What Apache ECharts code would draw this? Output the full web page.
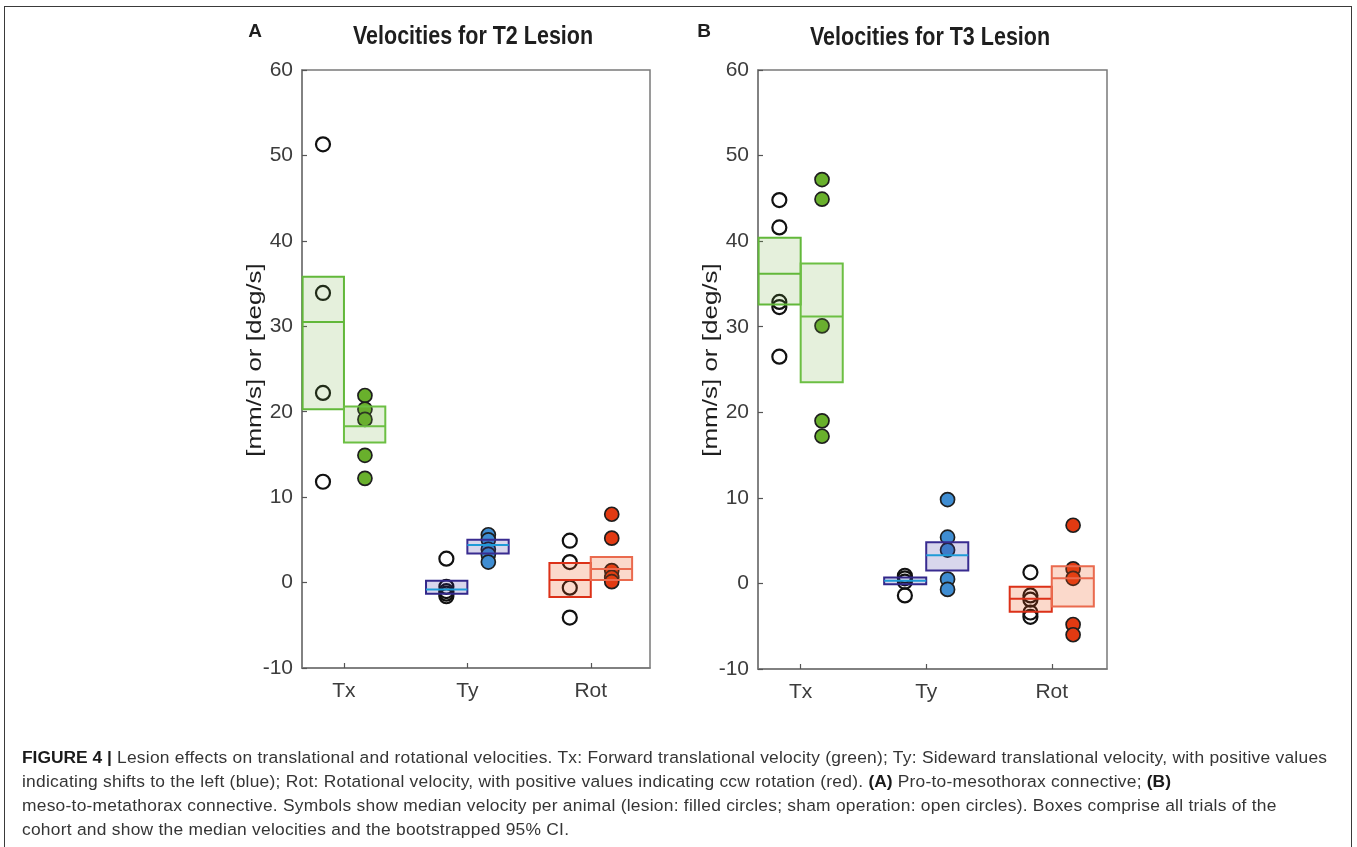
<!DOCTYPE html>
<html>
<head>
<meta charset="utf-8">
<script src="https://cdn.jsdelivr.net/npm/echarts@6/dist/echarts.min.js"></script>
<style>
  html, body { margin: 0; padding: 0; background: #fff; }
  #chart { position: absolute; left: 0; top: 0; width: 1357px; height: 847px; }
  #frame { position: absolute; left: 4px; top: 6px; width: 1346px; height: 900px;
           border: 1.5px solid #3a3a3a; pointer-events: none; }
  #caption { position: absolute; left: 22px; top: 745px; font-family: 'Liberation Sans', Arial, sans-serif;
             font-size: 17.4px; letter-spacing: 0.25px; line-height: 24px; color: #353535; white-space: nowrap; }
  #caption b { color: #1a1a1a; letter-spacing: 0; }
</style>
</head>
<body>
<div id="chart"></div>
<div id="frame"></div>
<div id="caption">
<b>FIGURE 4 |</b> Lesion effects on translational and rotational velocities. Tx: Forward translational velocity (green); Ty: Sideward translational velocity, with positive values<br>
indicating shifts to the left (blue); Rot: Rotational velocity, with positive values indicating ccw rotation (red). <b>(A)</b> Pro-to-mesothorax connective; <b>(B)</b><br>
meso-to-metathorax connective. Symbols show median velocity per animal (lesion: filled circles; sham operation: open circles). Boxes comprise all trials of the<br>
cohort and show the median velocities and the bootstrapped 95% CI.
</div>
<script>
// categories on the x axis
const categories = ['Tx', 'Ty', 'Rot'];
const yTicks = [-10, 0, 10, 20, 30, 40, 50, 60];

// T2 lesion: median per animal
const t2ShamTx = [51.3, 33.9, 22.2, 11.8];
const t2LesionTx = [21.9, 20.3, 19.1, 14.9, 12.2];
const t2ShamTy = [2.8, -0.5, -1.0, -1.3, -1.6];
const t2LesionTy = [5.6, 5.0, 3.9, 3.3, 2.4];
const t2ShamRot = [4.9, 2.4, -0.6, -4.1];
const t2LesionRot = [8.0, 5.2, 1.4, 0.6, 0.1];
// T2 boxes [low CI, median, high CI] per category
const t2ShamBox = [[20.3, 30.5, 35.8], [-1.3, -0.8, 0.2], [-1.7, 0.3, 2.3]];
const t2LesionBox = [[16.4, 18.3, 20.6], [3.4, 4.4, 5.0], [0.3, 1.6, 3.0]];

// T3 lesion
const t3ShamTx = [44.8, 41.6, 32.9, 32.3, 26.5];
const t3LesionTx = [47.2, 44.9, 30.1, 19.0, 17.2];
const t3ShamTy = [0.9, 0.6, 0.2, -1.4];
const t3LesionTy = [9.8, 5.4, 3.9, 0.5, -0.7];
const t3ShamRot = [1.3, -1.4, -1.9, -3.4, -3.9];
const t3LesionRot = [6.8, 1.7, 0.6, -4.8, -6.0];
const t3ShamBox = [[32.6, 36.2, 40.4], [-0.1, 0.3, 0.7], [-3.3, -1.8, -0.4]];
const t3LesionBox = [[23.5, 31.2, 37.4], [1.5, 3.3, 4.8], [-2.7, 0.6, 2.0]];

// colours per category (Tx, Ty, Rot)
const edgeSham = ['#62b83a', '#32278a', '#dc3118'];
const edgeLesion = ['#6cbf43', '#382b90', '#ea6a4e'];
const medianSham = ['#62b83a', '#1f9bd7', '#dc3118'];
const medianLesion = ['#6cbf43', '#1f9bd7', '#ea6a4e'];
const boxFill = ['rgba(110,170,60,0.18)', 'rgba(60,50,160,0.2)', 'rgba(235,80,20,0.22)'];
const dotFill = ['#69b02c', '#3f8dd2', '#e23a12'];

const BW = 0.335;
const OFF = 0.17;
const tickFont = "'Liberation Sans', Arial, sans-serif";

function scatter(grid, values, cat, lesion) {
  return {
    type: 'scatter', xAxisIndex: grid, yAxisIndex: grid, z: 2,
    symbol: 'circle', symbolSize: 14,
    data: values.map(v => [cat + 1 + (lesion ? OFF : -OFF), v]),
    itemStyle: lesion
      ? { color: dotFill[cat], borderColor: '#1e1e1e', borderWidth: 1.7, opacity: 1 }
      : { color: 'rgba(0,0,0,0)', borderColor: '#111', borderWidth: 2.2, opacity: 1 },
    emphasis: { disabled: true }, silent: true
  };
}

function boxes(grid, stats, lesion) {
  return {
    type: 'custom', xAxisIndex: grid, yAxisIndex: grid, z: 3, silent: true,
    data: stats.map((s, i) => lesion
      ? [i + 1, i + 1 + BW, s[0], s[1], s[2]]
      : [i + 1 - BW, i + 1, s[0], s[1], s[2]]),
    renderItem: (params, api) => {
      const i = params.dataIndex;
      const a = api.coord([api.value(0), api.value(4)]);
      const b = api.coord([api.value(1), api.value(2)]);
      const m = api.coord([api.value(0), api.value(3)]);
      const edge = lesion ? edgeLesion[i] : edgeSham[i];
      const med = lesion ? medianLesion[i] : medianSham[i];
      return {
        type: 'group', children: [
          { type: 'rect', shape: { x: a[0], y: a[1], width: b[0] - a[0], height: b[1] - a[1] },
            style: { fill: boxFill[i], stroke: edge, lineWidth: 2 } },
          { type: 'line', shape: { x1: a[0], y1: m[1], x2: b[0], y2: m[1] },
            style: { stroke: med, lineWidth: 2 } }
        ]
      };
    }
  };
}

function xAxis(grid, max) {
  return {
    type: 'value', gridIndex: grid, min: 0.66, max: max,
    axisLine: { show: true, onZero: false, lineStyle: { color: '#7a7a7a', width: 1.5 } },
    axisTick: { show: true, inside: true, length: 5, customValues: [1, 2, 3], lineStyle: { color: '#555', width: 1.2 } },
    axisLabel: { customValues: [1, 2, 3], formatter: v => categories[Math.round(v) - 1],
                 color: '#3c3c3c', fontSize: 21, fontFamily: tickFont, margin: 13 },
    splitLine: { show: false }
  };
}

function yAxis(grid) {
  return {
    type: 'value', gridIndex: grid, min: yTicks[0], max: yTicks[yTicks.length - 1], interval: 10,
    axisLine: { show: true, onZero: false, lineStyle: { color: '#7a7a7a', width: 1.5 } },
    axisTick: { show: true, inside: true, length: 5, lineStyle: { color: '#555', width: 1.2 } },
    axisLabel: { color: '#3c3c3c', fontSize: 21, fontFamily: tickFont, margin: 9 },
    splitLine: { show: false }
  };
}

function label(x, y, text, size, weight, sx, rot) {
  return {
    type: 'text', x: x, y: y, rotation: rot || 0, scaleX: sx || 1, silent: true,
    style: { text: text, fill: '#1e1e1e', fontSize: size, fontWeight: weight,
             fontFamily: "'Liberation Sans', Arial, sans-serif",
             align: 'center', verticalAlign: 'middle', textAlign: 'center', textVerticalAlign: 'middle' }
  };
}

const chart = echarts.init(document.getElementById('chart'), null, { renderer: 'canvas' });
chart.setOption({
  animation: false,
  backgroundColor: '#fff',
  grid: [
    { left: 302, top: 70, width: 348, height: 598, show: true, borderColor: '#7a7a7a', borderWidth: 1.5 },
    { left: 758, top: 70, width: 349, height: 599, show: true, borderColor: '#7a7a7a', borderWidth: 1.5 }
  ],
  xAxis: [xAxis(0, 3.48), xAxis(1, 3.44)],
  yAxis: [yAxis(0), yAxis(1)],
  graphic: [
    label(255, 32, 'A', 19, 'bold'),
    label(473, 37, 'Velocities for T2 Lesion', 25, 'bold', 0.86),
    label(255, 360, '[mm/s] or [deg/s]', 20, 'normal', 1.3, Math.PI / 2),
    label(704, 32, 'B', 19, 'bold'),
    label(930, 38, 'Velocities for T3 Lesion', 25, 'bold', 0.86),
    label(711, 360, '[mm/s] or [deg/s]', 20, 'normal', 1.3, Math.PI / 2)
  ],
  series: [
    scatter(0, t2ShamTx, 0, false), scatter(0, t2LesionTx, 0, true),
    scatter(0, t2ShamTy, 1, false), scatter(0, t2LesionTy, 1, true),
    scatter(0, t2ShamRot, 2, false), scatter(0, t2LesionRot, 2, true),
    boxes(0, t2ShamBox, false), boxes(0, t2LesionBox, true),
    scatter(1, t3ShamTx, 0, false), scatter(1, t3LesionTx, 0, true),
    scatter(1, t3ShamTy, 1, false), scatter(1, t3LesionTy, 1, true),
    scatter(1, t3ShamRot, 2, false), scatter(1, t3LesionRot, 2, true),
    boxes(1, t3ShamBox, false), boxes(1, t3LesionBox, true)
  ]
});
</script>
</body>
</html>
